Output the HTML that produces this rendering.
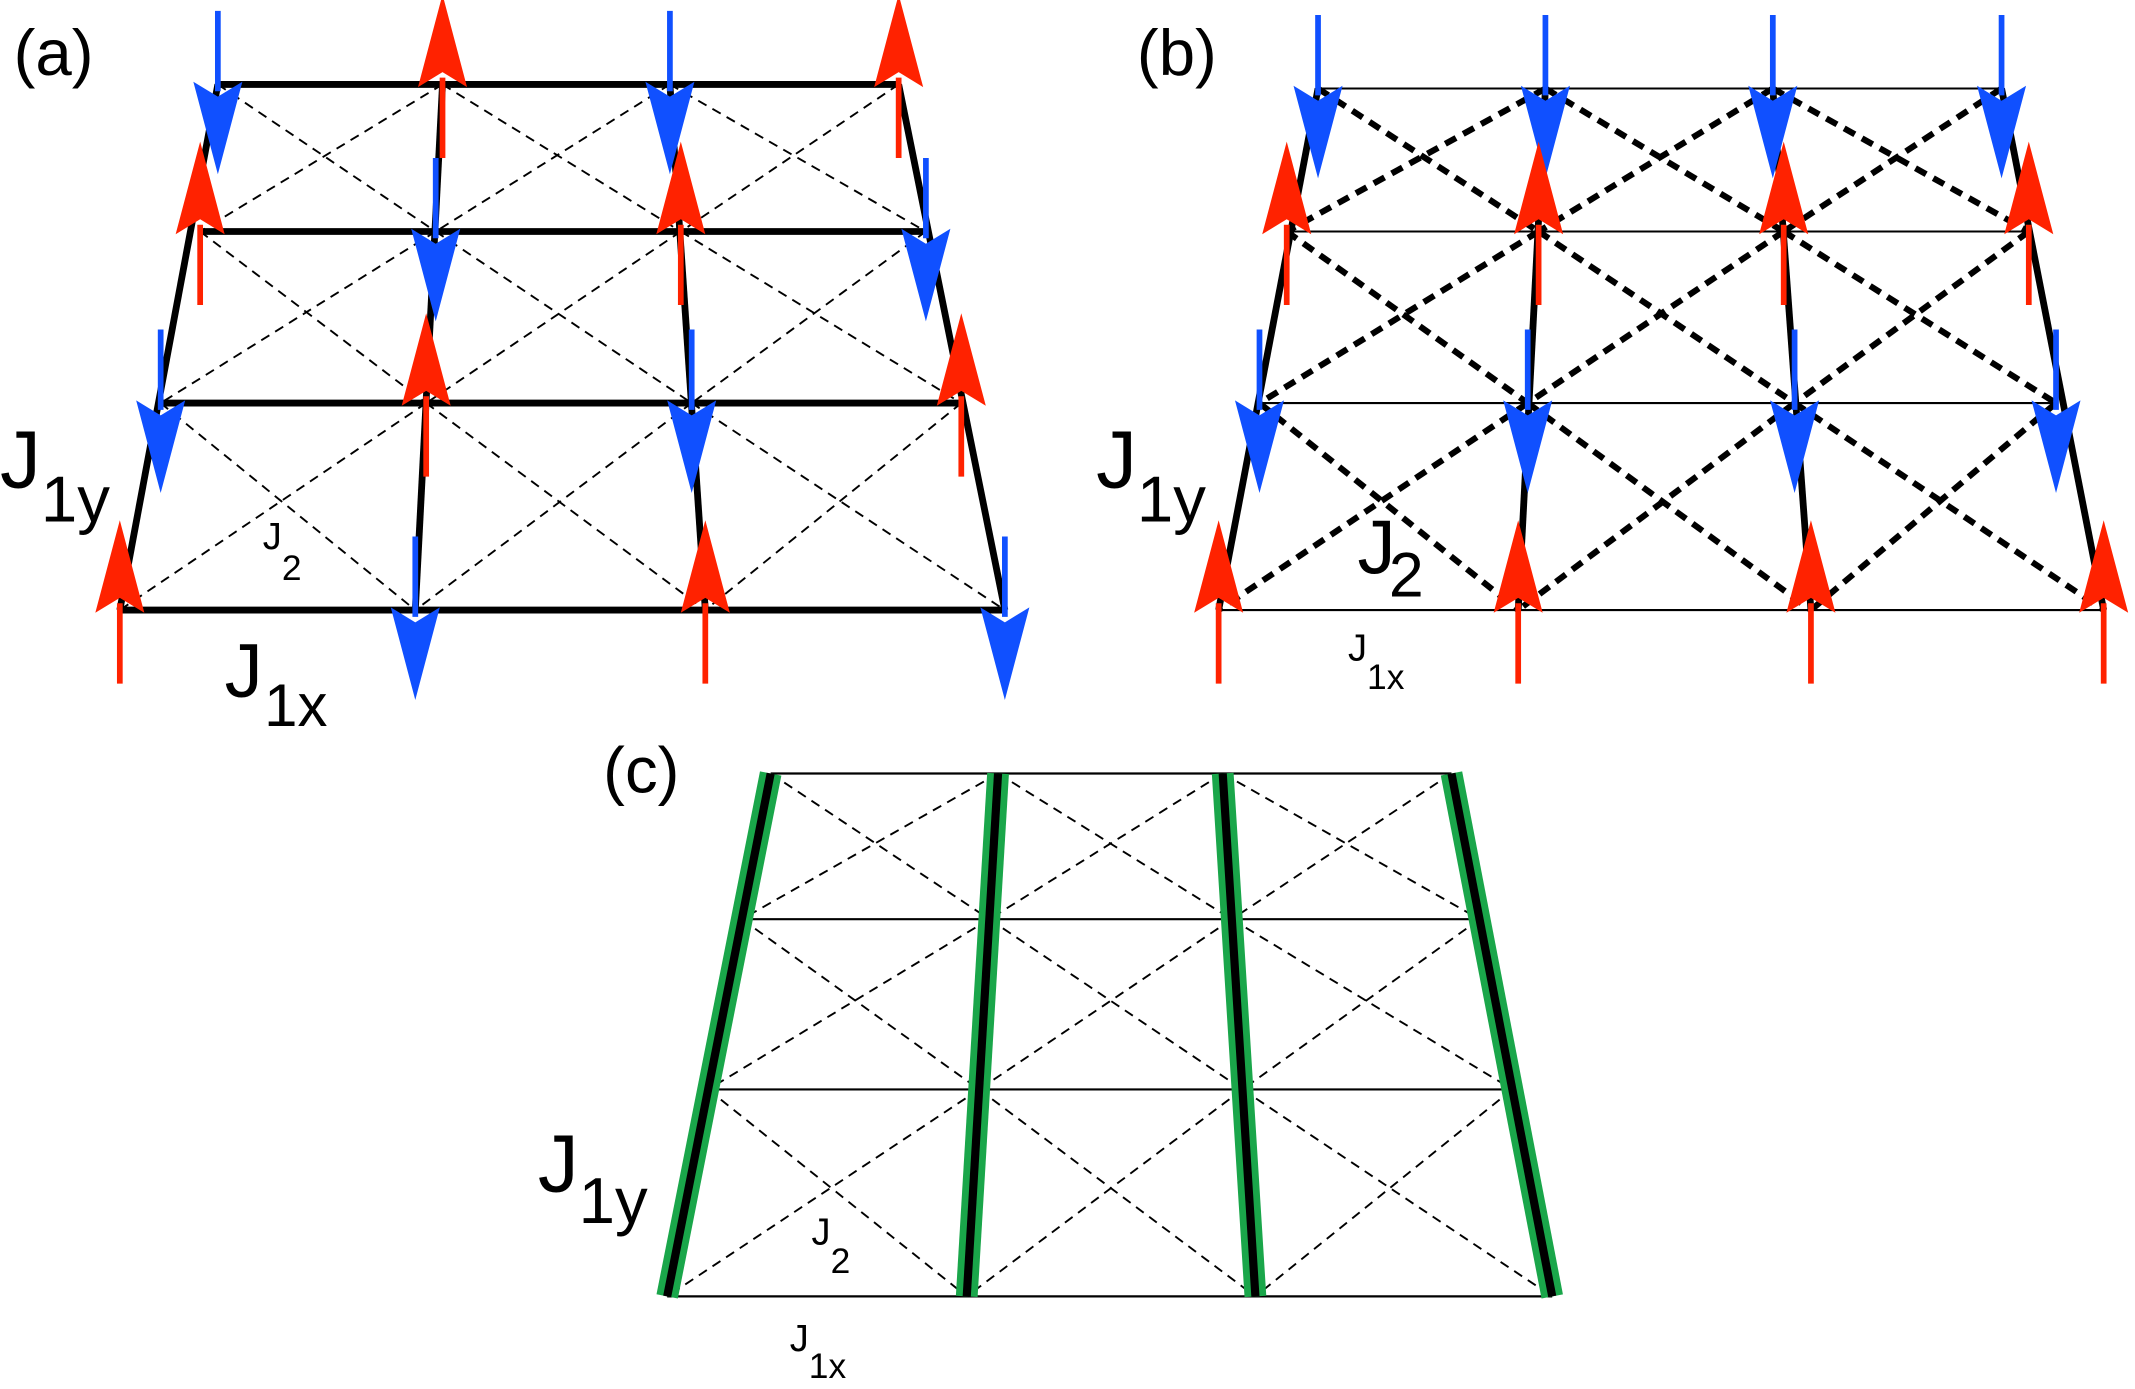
<!DOCTYPE html>
<html><head><meta charset="utf-8"><style>
html,body{margin:0;padding:0;background:#fff;}
svg{display:block;}
text{font-family:"Liberation Sans Narrow","Liberation Sans",sans-serif;fill:#000;}
</style></head><body>
<svg id="s" width="2135" height="1389" viewBox="0 0 1568 1020" preserveAspectRatio="none" xmlns="http://www.w3.org/2000/svg">
<g id="g"></g>
<text x="10" y="55" font-size="48">(a)</text>
<text x="0" y="358" font-size="60">J</text><text x="30" y="383" font-size="48">1y</text>
<text x="193" y="403" font-size="28">J</text><text x="207" y="426" font-size="26">2</text>
<text x="165" y="512" font-size="56">J</text><text x="194" y="533" font-size="44">1x</text>
<text x="835" y="55" font-size="48">(b)</text>
<text x="805" y="358" font-size="60">J</text><text x="835" y="383" font-size="48">1y</text>
<text x="997" y="421" font-size="56">J</text><text x="1020" y="438" font-size="46">2</text>
<text x="990" y="485" font-size="28">J</text><text x="1004" y="506" font-size="26">1x</text>
<text x="443" y="582" font-size="48">(c)</text>
<text x="395" y="875" font-size="60">J</text><text x="425" y="898" font-size="48">1y</text>
<text x="596" y="914" font-size="28">J</text><text x="610" y="935" font-size="26">2</text>
<text x="580" y="992" font-size="28">J</text><text x="594" y="1012" font-size="26">1x</text>
</svg>
<script>
var g=document.getElementById('g'),NS='http://www.w3.org/2000/svg';
function el(t,a){var e=document.createElementNS(NS,t);for(var k in a)e.setAttribute(k,a[k]);g.appendChild(e);return e;}
function ln(x1,y1,x2,y2,w,c,d){var a={x1:x1,y1:y1,x2:x2,y2:y2,stroke:c||'#000','stroke-width':w};if(d)a['stroke-dasharray']=d;el('line',a);}
function arrow(x,y,up,c){
 var s=up?-1:1;
 ln(x,y-s*54,x,y+s*5,4.2,c);
 el('path',{d:'M'+x+' '+(y+s*66)+' L'+(x-18)+' '+(y-s*2)+' L'+x+' '+(y+s*9)+' L'+(x+18)+' '+(y-s*2)+' Z',fill:c});
}
function lattice(rows,top,bot,opt){
 var P=[];
 for(var i=0;i<rows.length;i++){P.push([]);var f=(rows[i]-rows[0])/(rows[rows.length-1]-rows[0]);
  for(var j=0;j<top.length;j++)P[i].push([top[j]+(bot[j]-top[j])*f,rows[i]]);}
 if(opt.lx){for(var i=0;i<rows.length;i++)P[i].forEach(function(p,j){p[0]=opt.lx[i][j];});}
 for(var i=0;i<rows.length-1;i++)for(var j=0;j<top.length-1;j++){
  var a=P[i][j],b=P[i][j+1],c=P[i+1][j],d=P[i+1][j+1];
  ln(a[0],a[1],d[0],d[1],opt.dw,'#000',opt.dd);ln(b[0],b[1],c[0],c[1],opt.dw,'#000',opt.dd);}
 for(var i=0;i<rows.length;i++)ln(P[i][0][0],rows[i],P[i][top.length-1][0],rows[i],opt.hw);
 for(var j=0;j<top.length;j++){
  if(opt.green)ln(P[0][j][0],P[0][j][1],P[rows.length-1][j][0],P[rows.length-1][j][1],16,'#1aa64a');
  ln(P[0][j][0],P[0][j][1],P[rows.length-1][j][0],P[rows.length-1][j][1],opt.vw);}
 return P;
}
var R='#ff2200',B='#1050ff';
var A=lattice([62,170,296,448],[160,325,492,660],[88,305,518,738],{dw:1.4,dd:'7,5',hw:5,vw:5,lx:[[160,325,492,660],[147,320,500,680],[118,313,508,706],[88,305,518,738]]});
var pa=[[0,1,0,1],[1,0,1,0],[0,1,0,1],[1,0,1,0]];
for(var i=0;i<4;i++)for(var j=0;j<4;j++)arrow(A[i][j][0],A[i][j][1],pa[i][j],pa[i][j]?R:B);
var Bp=lattice([65,170,296,448],[968,1135,1302,1470],[895,1115,1330,1545],{dw:4.5,dd:'9,6',hw:1.5,vw:5,lx:[[968,1135,1302,1470],[945,1130,1310,1490],[925,1122,1318,1510],[895,1115,1330,1545]]});
for(var i=0;i<4;i++)for(var j=0;j<4;j++)arrow(Bp[i][j][0],Bp[i][j][1],i%2==1,i%2==1?R:B);
lattice([568,675,800,952],[566,733,898,1066],[490,710,922,1140],{dw:1.4,dd:'7,5',hw:1.6,vw:6,green:1});
</script>
</body></html>
